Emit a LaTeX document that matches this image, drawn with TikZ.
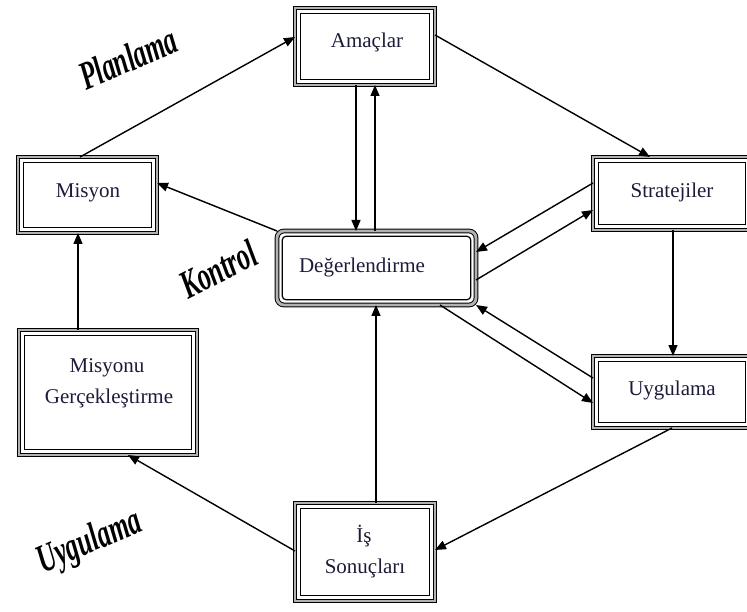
\documentclass[tikz,border=0pt]{standalone}
\usepackage{fontspec}
\setmainfont{Liberation Serif}
\usetikzlibrary{arrows.meta}
\definecolor{ink}{RGB}{28,28,58}
\tikzset{
  box/.style={draw=black, line width=1pt, double=gray!60, double distance=2.8pt,
              inner sep=0pt, outer sep=0pt, fill=white},
  inner/.style={draw=black, line width=1.2pt},
  lbl/.style={font=\fontsize{21}{25}\selectfont, text=ink, inner sep=0pt, anchor=base},
  phase/.style={font=\fontsize{40}{42}\selectfont\bfseries\itshape, inner sep=0pt},
  link/.style={line width=1.4pt, -{Triangle[length=11pt,width=9pt]}},
}
\begin{document}
\begin{tikzpicture}[x=1pt, y=-1pt]
\path[use as bounding box, clip] (0,0) rectangle (747,612);

% boxes
\node[box, minimum width=140pt, minimum height=77pt]  (amac)    at (365,46.5) {};
\node[box, minimum width=139pt, minimum height=76pt]  (misyon)  at (87.5,195) {};
\node[box, minimum width=158pt, minimum height=73pt]  (strat)   at (672,193.5) {};
\node[box, minimum width=199pt, minimum height=74pt, rounded corners=7pt] (deg) at (376.5,268) {};
\node[box, minimum width=178pt, minimum height=125pt] (misyonu) at (108,392.5) {};
\node[box, minimum width=158pt, minimum height=72pt]  (uyg)     at (672,392) {};
\node[box, minimum width=140pt, minimum height=98pt]  (is)      at (365,552) {};

% inner frame lines
\foreach \n in {amac,misyon,strat,misyonu,uyg,is}
  \draw[inner] ([shift={(5.2pt,5.2pt)}]\n.south west) rectangle ([shift={(-5.2pt,-5.2pt)}]\n.north east);
\draw[inner, rounded corners=4pt] ([shift={(5.2pt,5.2pt)}]deg.south west) rectangle ([shift={(-5.2pt,-5.2pt)}]deg.north east);

% box texts
\node[lbl] (t-amac)   at (367,48)  {Amaçlar};
\node[lbl] (t-misyon) at (88,198)  {Misyon};
\node[lbl] (t-strat)  at (672,198) {Stratejiler};
\node[lbl] (t-deg)    at (362,273) {Değerlendirme};
\node[lbl] (t-uyg)    at (672,395) {Uygulama};
\node[lbl] (t-mg1)    at (107,372) {Misyonu};
\node[lbl] (t-mg2)    at (109,403) {Gerçekleştirme};
\node[lbl] (t-is1)    at (364,542) {İş};
\node[lbl] (t-is2)    at (365,573) {Sonuçları};

% phase labels
\node[phase, rotate=23] (p-plan) at (128,58)  {\scalebox{0.64}[1]{Planlama}};
\node[phase, rotate=27] (p-kont) at (218,269) {\scalebox{0.64}[1]{Kontrol}};
\node[phase, rotate=23] (p-uyg)  at (90,543)  {\scalebox{0.64}[1]{Uygulama}};

% connectors
\draw[link] ([xshift=62pt]misyon.north west) -- ([yshift=-29pt]amac.north west);
\draw[link] ([yshift=-27pt]amac.north east) -- ([xshift=57pt]strat.north west);
\coordinate (aDown) at ([xshift=61pt]amac.south west);
\coordinate (aUp)   at ([xshift=80pt]amac.south west);
\draw[link] (aDown) -- (aDown |- deg.north);
\draw[link] (aUp |- deg.north) -- (aUp);
\draw[link] (deg.north west) -- ([yshift=-26pt]misyon.north east);
\draw[link] ([yshift=-26pt]strat.north west) -- ([yshift=-21pt]deg.north east);
\draw[link] ([yshift=-49pt]deg.north east) -- ([yshift=-53pt]strat.north west);
\draw[link] ([xshift=163pt]deg.south west) -- ([yshift=-47pt]uyg.north west);
\draw[link] ([yshift=-22pt]uyg.north west) -- (deg.south east);
\coordinate (sDown) at ([xshift=80pt]strat.south west);
\draw[link] (sDown) -- (sDown |- uyg.north);
\draw[link] ([xshift=79pt]uyg.south west) -- ([yshift=-47pt]is.north east);
\coordinate (iUp) at ([xshift=81pt]is.north west);
\draw[link] (iUp) -- (iUp |- deg.south);
\draw[link] ([yshift=-48pt]is.north west) -- ([xshift=109pt]misyonu.south west);
\coordinate (mUp) at ([xshift=59pt]misyonu.north west);
\draw[link] (mUp) -- (mUp |- misyon.south);
\end{tikzpicture}
\end{document}
